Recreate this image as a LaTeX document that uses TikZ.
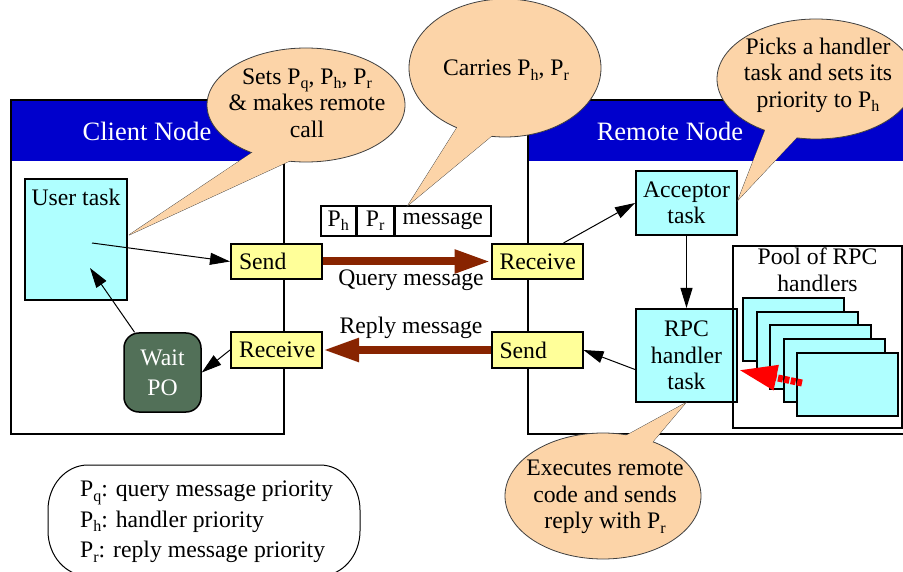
\documentclass[tikz,border=0pt]{standalone}
\usepackage{fontspec}
\setmainfont{Liberation Serif}
\usepackage{graphicx}
\usetikzlibrary{arrows.meta,calc,shapes.geometric}
\definecolor{hdrblue}{RGB}{0,0,204}
\definecolor{taskcyan}{RGB}{175,255,255}
\definecolor{msgyellow}{RGB}{255,255,153}
\definecolor{waitgreen}{RGB}{82,112,88}
\definecolor{peach}{RGB}{252,212,168}
\definecolor{msgbrown}{RGB}{136,36,0}
\newcommand{\sbx}[1]{\raisebox{-0.4ex}{\fontsize{16}{16}\selectfont #1}}
\begin{document}
\begin{tikzpicture}[x=1pt,y=-1pt,
  every node/.style={font=\fontsize{23.7}{26.5}\selectfont},
  frame/.style={draw=black,line width=2pt},
  title/.style={text=white,font=\fontsize{26.5}{30}\selectfont},
  task/.style={draw=black,line width=2pt,fill=taskcyan,align=center,inner sep=0pt},
  msgbox/.style={draw=black,line width=2pt,fill=msgyellow,minimum height=35pt,text width=75pt,align=left,inner xsep=8pt,inner ysep=0pt},
  waitbox/.style={draw=black,line width=1.5pt,fill=waitgreen,rounded corners=15pt,text=white,align=center,minimum width=77pt,minimum height=79pt,inner sep=0pt,font=\fontsize{23.7}{30}\selectfont},
  cell/.style={draw=black,line width=1.5pt,fill=white,minimum height=30pt,inner sep=0pt,anchor=west},
  flow/.style={-{Triangle[length=20pt,width=12pt]},line width=1pt,draw=black},
  bigarrow/.style={-{Triangle[length=36pt,width=22pt]},line width=8pt,draw=msgbrown},
  redarrow/.style={-{Triangle[length=38pt,width=24pt]},line width=7pt,draw=red,dash pattern=on 5pt off 1.5pt},
  callout/.style={fill=peach,draw=black!75,line width=0.8pt},
  calltext/.style={align=center,inner sep=0pt}
]
\useasboundingbox (0,0) rectangle (903,572);
\fill[white] (0,0) rectangle (903,572);

% frames
\fill[hdrblue] (11,100) rectangle (284,161);
\draw[frame] (11,100) rectangle (284,434);
\node[title] (ctitle) at (147,131) {Client Node};
\fill[hdrblue] (528,100) rectangle (912,161);
\draw[frame] (528,100) rectangle (912,434);
\node[title] (rtitle) at (670,131) {Remote Node};

% client side
\node[task,minimum width=102pt,minimum height=121pt,
  label={[anchor=north,inner sep=0pt,yshift=-11pt]north:User task}] (ut) at (76,239.5) {};
\coordinate (utout) at (92,243);
\coordinate (utin) at (90,268);
\node[msgbox] (csend) at (276.5,261.5) {Send};
\node[msgbox] (crecv) at (276.5,350) {Receive};
\node[waitbox] (waitpo) at (162.5,372.5) {Wait\\PO};

% remote side
\node[msgbox] (rrecv) at (537,261.5) {Receive};
\node[msgbox] (rsend) at (537,350) {Send};
\node[task,minimum width=101pt,minimum height=64pt] (acc) at (686.5,203) {Acceptor\\task};
\node[task,minimum width=101pt,minimum height=93pt] (rpc) at (686.5,355.5) {RPC\\handler\\task};
\node[draw=black,line width=2pt,minimum width=169pt,minimum height=182pt,inner sep=0pt,
  label={[anchor=north,inner sep=0pt,yshift=-3pt,align=center]north:Pool of RPC\\handlers}] (pool) at (817.5,337) {};
\foreach \i in {0,...,4}{
  \node[task,minimum width=101pt,minimum height=63pt] (h\i) at ({793.5+13.5*\i},{329.5+13.75*\i}) {};
}

% message header
\node[cell,minimum width=35pt] (ph) at (320,221) {P\sbx{h}};
\node[cell,minimum width=36pt] (pr) at (ph.east) {P\sbx{r}};
\node[cell,minimum width=96pt] (msg) at (pr.east) {message};

% connectors
\draw[flow] (utout) -- (csend.west);
\draw[flow] (waitpo) -- (utin);
\draw[flow] (crecv.west) -- (waitpo.east);
\draw[flow] ($(rrecv.north east)+(-20,0)$) -- (acc.west);
\draw[flow] (acc.south) -- (rpc.north);
\draw[flow] ($(rpc.west)+(0,14)$) -- (rsend.east);
\draw[bigarrow] (csend.east) -- (rrecv.west);
\draw[bigarrow] (rsend.west) -- (crecv.east);
\node[anchor=base] (qlab) at (411,286) {Query message};
\node[anchor=base] (rlab) at (411,334) {Reply message};
\coordinate (redtail) at (802,383);
\coordinate (rpcin) at (739,370);
\draw[redarrow] (redtail) -- (rpcin);

% callout 1
\coordinate (t1) at ($(ut.east)+(1,-4.5)$);
\filldraw[callout] (256,150) -- (t1) -- (296,158) -- cycle;
\filldraw[callout] (306,105) ellipse [x radius=99, y radius=57];
\fill[peach] (256,150) -- (t1) -- (296,158) -- cycle;
\node[calltext] (c1) at (307,103) {Sets P\sbx{q}, P\sbx{h}, P\sbx{r}\\\& makes remote\\call};

% callout 2
\coordinate (t2) at ($(msg.north west)+(14,0)$);
\filldraw[callout] (458,126) -- (t2) -- (494,134) -- cycle;
\filldraw[callout] (505,68) ellipse [x radius=96, y radius=69];
\fill[peach] (458,126) -- (t2) -- (494,134) -- cycle;
\node[calltext] (c2) at (506,70) {Carries P\sbx{h}, P\sbx{r}};

% callout 3
\coordinate (t3) at ($(acc.east)+(0,-3)$);
\filldraw[callout] (766,128) -- (t3) -- (800,134) -- cycle;
\filldraw[callout] (816,79) ellipse [x radius=99, y radius=60];
\fill[peach] (766,128) -- (t3) -- (800,134) -- cycle;
\node[calltext] (c3) at (818,75) {Picks a handler\\task and sets its\\priority to P\sbx{h}};

% callout 4
\coordinate (t4) at ($(rpc.south)+(-1,0)$);
\filldraw[callout] (618,440) -- (t4) -- (650,445) -- cycle;
\filldraw[callout] (603,496) ellipse [x radius=98, y radius=63];
\fill[peach] (618,440) -- (t4) -- (650,445) -- cycle;
\node[calltext] (c4) at (605,497) {Executes remote\\code and sends\\reply with P\sbx{r}};

% legend
\draw[line width=1pt] (88,465) -- (320,465)
  arc[start angle=-90,end angle=0,x radius=40,y radius=45] -- (360,531)
  arc[start angle=0,end angle=90,x radius=40,y radius=45] -- (88,576)
  arc[start angle=90,end angle=180,x radius=40,y radius=45] -- (48,510)
  arc[start angle=180,end angle=270,x radius=40,y radius=45] -- cycle;
\node[anchor=north west,inner sep=0pt,align=left,font=\fontsize{23.7}{30.5}\selectfont] (leg) at (80,481)
  {P\sbx{q}: query message priority\\P\sbx{h}: handler priority\\P\sbx{r}: reply message priority};
\end{tikzpicture}
\end{document}
